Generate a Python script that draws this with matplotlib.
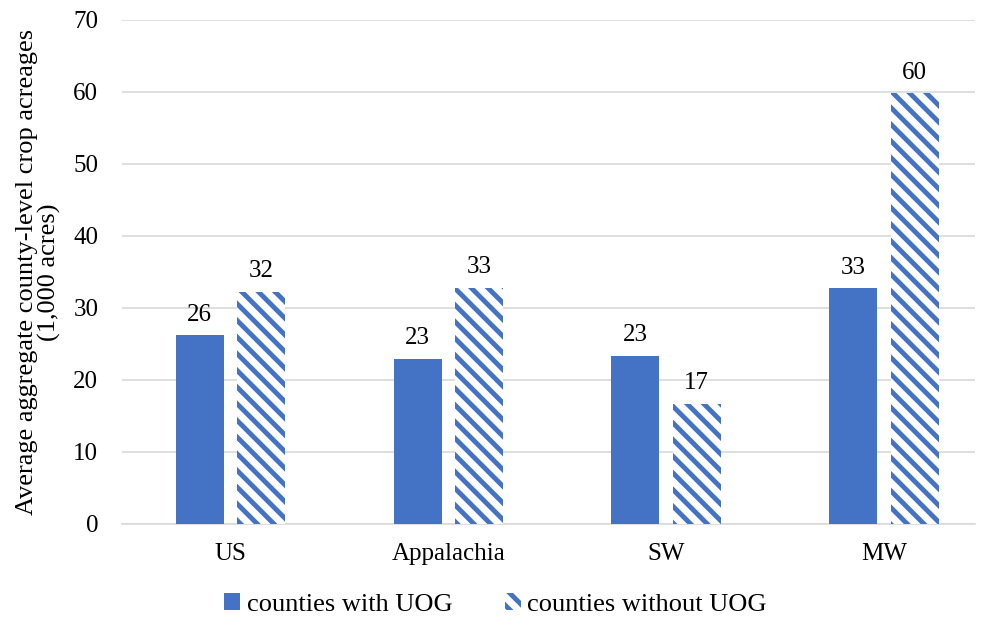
import numpy as np
import matplotlib.pyplot as plt

plt.rcParams['font.family'] = ['Liberation Serif', 'DejaVu Serif']
plt.rcParams['hatch.linewidth'] = 3.5
plt.rcParams['hatch.color'] = '#4472C4'

regions = ["US", "Appalachia", "SW", "MW"]
with_uog = [26.2, 22.9, 23.3, 32.7]
without_uog = [32.2, 32.8, 16.7, 59.8]
labels_with = ["26", "23", "23", "33"]
labels_without = ["32", "33", "17", "60"]

fig = plt.figure(figsize=(9.91, 6.23), dpi=100)
ax = fig.add_axes([0.123, 0.159, 0.861, 0.809])

x = np.arange(len(regions))
w = 0.22
b1 = ax.bar(x - 0.142, with_uog, w, color='#4472C4', label='counties with UOG', zorder=3)
b2 = ax.bar(x + 0.14, without_uog, w, color='white', edgecolor='#4472C4', linewidth=0,
            hatch='\\\\', label='counties without UOG', zorder=3)

for bars, labs in [(b1, labels_with), (b2, labels_without)]:
    for bar, lab in zip(bars, labs):
        ax.annotate(lab, (bar.get_x() + bar.get_width() / 2, bar.get_height()),
                    xytext=(0, 7), textcoords='offset points', ha='center', va='bottom',
                    fontsize=18)

ax.set_ylim(0, 70)
ax.set_yticks(range(0, 71, 10))
ax.set_xlim(-0.5, 3.418)
ax.set_xticks(x)
ax.set_xticklabels(regions)
ax.tick_params(axis='both', length=0, labelsize=18)
ax.tick_params(axis='x', pad=14)
ax.tick_params(axis='y', pad=17)
ax.grid(axis='y', color='#d9d9d9', linewidth=1.2, zorder=0)
for s in ['top', 'right', 'left']:
    ax.spines[s].set_visible(False)
ax.spines['bottom'].set_color('#d9d9d9')
ax.spines['bottom'].set_linewidth(1.2)

ax.set_ylabel("Average aggregate county-level crop acreages\n(1,000 acres)", fontsize=19,
              linespacing=1.0, labelpad=9)

fig.legend(loc='lower center', bbox_to_anchor=(0.5, -0.027), ncol=2, frameon=False,
           fontsize=19, handlelength=0.6, handleheight=0.6, handletextpad=0.25, columnspacing=2.0)

fig.savefig('out.png', dpi=100)
